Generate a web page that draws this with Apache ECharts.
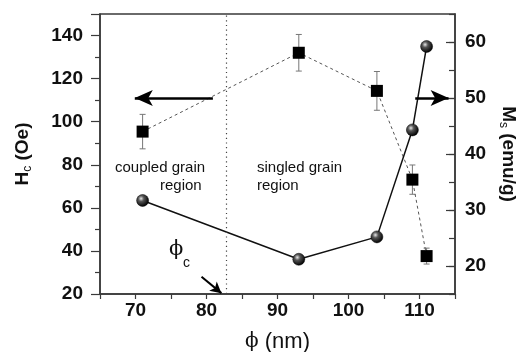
<!DOCTYPE html>
<html>
<head>
<meta charset="utf-8">
<script src="https://cdn.jsdelivr.net/npm/echarts@6/dist/echarts.min.js"></script>
<style>
html,body{margin:0;padding:0;background:#fff;}
#c{width:520px;height:352px;}
</style>
</head>
<body>
<div id="c"></div>
<script>
// ---- data ----
const phi = [71, 93, 104, 109, 111];
const hc = [95.4, 132, 114.3, 73.1, 37.6];
const hcErr = [8, 8.5, 9, 6.8, 3.7];
const ms = [31.7, 21.2, 25.2, 44.3, 59.2];
const phiC = 82.8;
// annotation arrows [x1, y1, x2, y2] (tail -> head), in data units
const arrowHc = [80.9, 111, 69.9, 111];
const arrowMs = [109.4, 50, 114.1, 50];
const arrowPhiC = [79.3, 28, 82.1, 20.4];
const xTicks = [70, 80, 90, 100, 110];
const hcTicks = [20, 40, 60, 80, 100, 120, 140];
const msTicks = [20, 30, 40, 50, 60];

const chart = echarts.init(document.getElementById('c'));
const axisColor = '#3a3a3a';
const labelFont = {fontFamily: 'Liberation Sans, Arial, sans-serif', fontWeight: 'bold', fontSize: 19, color: '#111'};

const sphere = {
  type: 'radial', x: 0.38, y: 0.35, r: 0.65,
  colorStops: [{offset: 0, color: '#e8e8e8'}, {offset: 0.35, color: '#555'}, {offset: 1, color: '#000'}]
};

function arrowLine(a, size) {
  return [[{coord: [a[0], a[1]], symbol: 'none'}, {coord: [a[2], a[3]], symbol: 'arrow', symbolSize: size}]];
}

chart.setOption({
  animation: false,
  grid: {left: 100, right: 65, top: 14, bottom: 58, show: true, borderColor: axisColor, borderWidth: 1.5,
    backgroundColor: 'transparent', containLabel: false, outerBoundsMode: 'none'},
  xAxis: {
    type: 'value', min: 65, max: 115, interval: 5,
    splitLine: {show: false},
    axisLine: {lineStyle: {color: axisColor, width: 1.5}},
    axisTick: {length: 5, lineStyle: {color: axisColor, width: 1.2}},
    axisLabel: Object.assign({margin: 7, hideOverlap: false,
      formatter: v => xTicks.indexOf(v) >= 0 ? String(v) : ''}, labelFont),
    name: '{p|ϕ}{m| (nm)}', nameLocation: 'middle', nameGap: 37,
    nameTextStyle: {rich: {
      p: {fontFamily: 'DejaVu Serif, serif', fontSize: 20, color: '#111'},
      m: {fontFamily: 'Liberation Sans, Arial, sans-serif', fontSize: 22, color: '#111'}
    }}
  },
  yAxis: [{
    type: 'value', min: 20, max: 150, interval: 20,
    splitLine: {show: false},
    axisLine: {lineStyle: {color: axisColor, width: 1.5}},
    axisTick: {length: 9, lineStyle: {color: axisColor, width: 1.2}},
    minorTick: {show: true, splitNumber: 2, length: 5, lineStyle: {color: axisColor, width: 1.2}},
    axisLabel: Object.assign({margin: 17, showMaxLabel: false,
      formatter: v => hcTicks.indexOf(v) >= 0 ? String(v) : ''}, labelFont),
    name: '{m|H}{s|c}{m| (Oe)}', nameLocation: 'middle', nameGap: 66,
    nameTextStyle: {rich: {
      m: {fontFamily: 'Liberation Sans, Arial, sans-serif', fontWeight: 'bold', fontSize: 19, color: '#111', lineHeight: 22},
      s: {fontFamily: 'Liberation Sans, Arial, sans-serif', fontSize: 12, color: '#111', lineHeight: 22, verticalAlign: 'bottom', padding: [10, 0, 0, 0]}
    }}
  }, {
    type: 'value', min: 15, max: 65, interval: 5, position: 'right',
    splitLine: {show: false},
    axisLine: {show: true, lineStyle: {color: axisColor, width: 1.5}},
    axisTick: {inside: true, length: 6, lineStyle: {color: axisColor, width: 1.2}},
    axisLabel: Object.assign({margin: 10,
      formatter: v => msTicks.indexOf(v) >= 0 ? String(v) : ''}, labelFont),
    name: '{m|M}{s|s}{m| (emu/g)}', nameLocation: 'middle', nameGap: 42, nameRotate: -90,
    nameTextStyle: {rich: {
      m: {fontFamily: 'Liberation Sans, Arial, sans-serif', fontWeight: 'bold', fontSize: 19, color: '#111', lineHeight: 22},
      s: {fontFamily: 'Liberation Sans, Arial, sans-serif', fontSize: 12, color: '#111', lineHeight: 22, verticalAlign: 'bottom', padding: [10, 0, 0, 0]}
    }}
  }, {
    type: 'value', min: 15, max: 65, interval: 5, position: 'right',
    splitLine: {show: false},
    axisLine: {show: false},
    axisTick: {inside: true, length: 9, customValues: msTicks, lineStyle: {color: axisColor, width: 1.2}},
    axisLabel: {show: false}
  }],
  series: [
    {
      type: 'custom', xAxisIndex: 0, yAxisIndex: 0, silent: true, z: 1,
      data: phi.map((x, i) => [x, hc[i] - hcErr[i], hc[i] + hcErr[i]]),
      renderItem: function (params, api) {
        const lo = api.coord([api.value(0), api.value(1)]);
        const hi = api.coord([api.value(0), api.value(2)]);
        const cw = 3;
        const st = {stroke: '#777', lineWidth: 1};
        return {type: 'group', children: [
          {type: 'line', shape: {x1: lo[0], y1: lo[1], x2: hi[0], y2: hi[1]}, style: st},
          {type: 'line', shape: {x1: lo[0] - cw, y1: lo[1], x2: lo[0] + cw, y2: lo[1]}, style: st},
          {type: 'line', shape: {x1: hi[0] - cw, y1: hi[1], x2: hi[0] + cw, y2: hi[1]}, style: st}
        ]};
      }
    },
    {
      name: 'Hc', type: 'line', xAxisIndex: 0, yAxisIndex: 0, z: 3,
      data: phi.map((x, i) => [x, hc[i]]),
      symbol: 'rect', symbolSize: 12, showAllSymbol: true,
      itemStyle: {color: '#000'},
      lineStyle: {color: '#555', width: 1, type: [3, 3]},
      markLine: {
        silent: true, animation: false, label: {show: false}, symbol: 'none',
        lineStyle: {color: '#000', width: 2.5, type: 'solid'},
        data: [
          ...arrowLine(arrowHc, [12, 18]),
          [{coord: [arrowPhiC[0], arrowPhiC[1]], symbol: 'none', lineStyle: {width: 2}},
           {coord: [arrowPhiC[2], arrowPhiC[3]], symbol: 'arrow', symbolSize: [9, 11]}]
        ]
      }
    },
    {
      type: 'line', xAxisIndex: 0, yAxisIndex: 0, z: 2, data: [],
      markLine: {
        silent: true, animation: false, label: {show: false}, symbol: ['none', 'none'],
        lineStyle: {color: '#444', width: 1.2, type: [1.2, 3.5]},
        data: [{xAxis: phiC}]
      }
    },
    {
      name: 'Ms', type: 'line', xAxisIndex: 0, yAxisIndex: 1, z: 4,
      data: phi.map((x, i) => [x, ms[i]]),
      symbol: 'circle', symbolSize: 12, showAllSymbol: true,
      itemStyle: {color: sphere, borderColor: '#000', borderWidth: 0.5},
      lineStyle: {color: '#111', width: 1.5},
      markLine: {
        silent: true, animation: false, label: {show: false}, symbol: 'none',
        lineStyle: {color: '#000', width: 2.5, type: 'solid'},
        data: arrowLine(arrowMs, [12, 18])
      }
    }
  ],
  graphic: [
    {type: 'text', left: 115, top: 160, style: {text: 'coupled grain', font: '15px Liberation Sans, Arial, sans-serif', fill: '#111'}},
    {type: 'text', left: 160, top: 178, style: {text: 'region', font: '15px Liberation Sans, Arial, sans-serif', fill: '#111'}},
    {type: 'text', left: 257, top: 160, style: {text: 'singled grain', font: '15px Liberation Sans, Arial, sans-serif', fill: '#111'}},
    {type: 'text', left: 257, top: 178, style: {text: 'region', font: '15px Liberation Sans, Arial, sans-serif', fill: '#111'}},
    {type: 'text', left: 169, top: 239, style: {text: 'ϕ', font: '21px DejaVu Serif, serif', fill: '#111'}},
    {type: 'text', left: 183, top: 256, style: {text: 'c', font: '14px Liberation Sans, Arial, sans-serif', fill: '#111'}}
  ]
});
</script>
</body>
</html>
